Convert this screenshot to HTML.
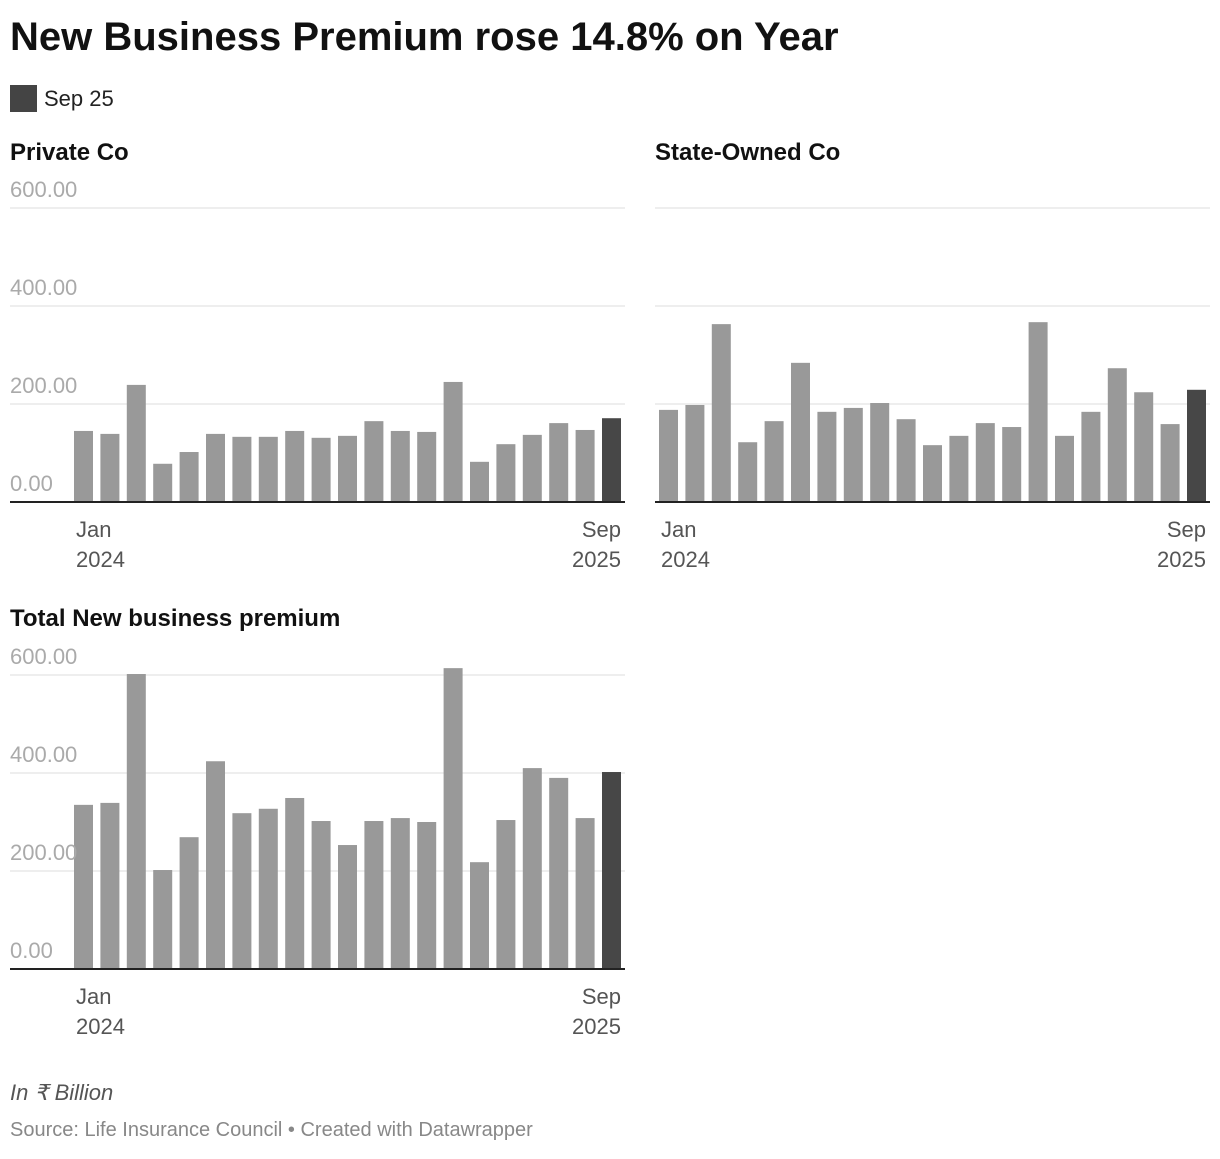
<!DOCTYPE html>
<html><head><meta charset="utf-8"><style>
body{margin:0;background:#fff;font-family:"Liberation Sans",Arial,sans-serif;}
#wrap{position:relative;width:1220px;height:1154px;}
svg text{font-family:"Liberation Sans",Arial,sans-serif;}
</style></head><body>
<div id="wrap">
<svg id="svg" width="1220" height="1154">
<text x="10" y="50" font-size="40" font-weight="bold" fill="#111">New Business Premium rose 14.8% on Year</text>
<rect x="10" y="85" width="27" height="27" fill="#444"/>
<text x="44" y="106" font-size="22" fill="#222">Sep 25</text>
<text x="10" y="1100" font-size="22" font-style="italic" fill="#555">In ₹ Billion</text>
<text x="10" y="1136" font-size="20" fill="#888">Source: Life Insurance Council • Created with Datawrapper</text>
</svg></div>
<script>
const privateVals=[145,139,239,78,102,139,133,133,145,131,135,165,145,143,245,82,118,137,161,147,171];
const stateVals=[188,198,363,122,165,284,184,192,202,169,116,135,161,153,367,135,184,273,224,159,229];
const totalVals=[335,339,602,202,269,424,318,327,349,302,253,302,308,300,614,218,304,410,390,308,402];
const yTicks=[0,200,400,600];
const tickLabels=["0.00","200.00","400.00","600.00"];
const NS="http://www.w3.org/2000/svg";
const svg=document.getElementById('svg');
function mk(tag,attrs){const e=document.createElementNS(NS,tag);for(const k in attrs)e.setAttribute(k,attrs[k]);svg.appendChild(e);return e;}
function panel(title,vals,left,x0,x1,base,top,titleY,key,showLabels){
  const t=mk('text',{x:left,y:titleY,'font-size':24,'font-weight':'bold',fill:'#111'});t.textContent=title;
  
  
  const y=v=>base-(v/600)*(base-top);
  yTicks.forEach((tv,i)=>{
    if(tv>0){const l=mk('line',{x1:left,x2:x1+4,y1:y(tv),y2:y(tv),stroke:'#ddd','stroke-width':1});
    
    }
  });
  const n=vals.length,bw=19,step=(x1-x0-bw)/(n-1);
  vals.forEach((v,i)=>{
    const r=mk('rect',{x:x0+i*step,y:y(v),width:bw,height:base-y(v),fill:i==n-1?'#474747':'#999'});
    
    
  });
  if(showLabels){
  yTicks.forEach((tv,i)=>{
    const tx=mk('text',{x:left,y:y(tv)-11,'font-size':22,fill:'#aaa'});tx.textContent=tickLabels[i];
    
    
  });}
  const ax=mk('line',{x1:left,x2:x1+4,y1:base,y2:base,stroke:'#222','stroke-width':2});
  
  
  [['Jan',x0+2,'start'],['Sep',x1,'end']].forEach(([m,xx,a],j)=>{
    const t1=mk('text',{x:xx,y:base+35,'font-size':22,fill:'#555','text-anchor':a});t1.textContent=m;
    
    
    const t2=mk('text',{x:xx,y:base+65,'font-size':22,fill:'#555','text-anchor':a});t2.textContent=j?'2025':'2024';
    
    
  });
}
panel('Private Co',privateVals,10,74,621,502,208,160,'private',true);
panel('State-Owned Co',stateVals,655,659,1206,502,208,160,'state',false);
panel('Total New business premium',totalVals,10,74,621,969,675,626,'total',true);
</script>
</body></html>
